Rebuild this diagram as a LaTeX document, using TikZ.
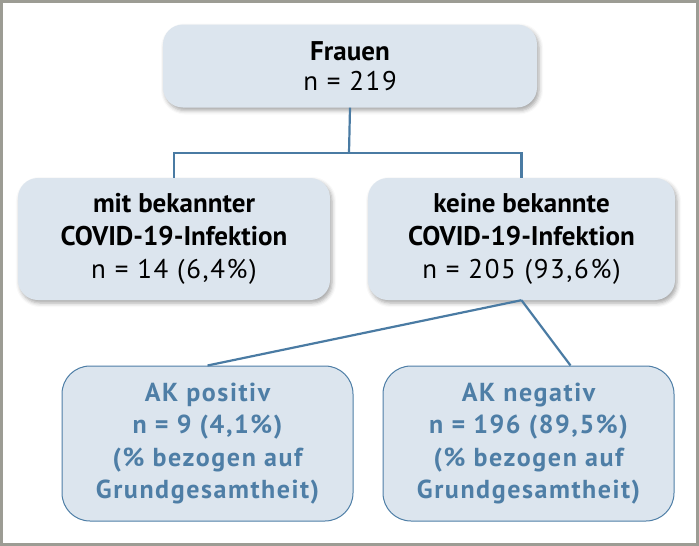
\documentclass[tikz,border=0pt]{standalone}
\usepackage{fontspec}
\setmainfont{PT Sans}
\newfontfamily\wideF[LetterSpace=6]{PT Sans}
\usetikzlibrary{shadows.blur,calc}
\definecolor{boxfill}{HTML}{DCE5EE}
\definecolor{connblue}{HTML}{4A7BA3}
\definecolor{akblue}{HTML}{4E7EA6}
\definecolor{frame}{HTML}{9C9C94}
\newcommand{\nline}[1]{{\wideF #1}}
\tikzset{
  greybox/.style={fill=boxfill, rounded corners=20pt, align=center, inner sep=0pt,
    blur shadow={shadow xshift=2pt, shadow yshift=-3pt, shadow blur radius=4pt, shadow opacity=35},
    font=\fontsize{27}{33}\selectfont},
  akbox/.style={fill=boxfill, draw=akblue, line width=1pt, rounded corners=28pt, align=center,
    inner sep=0pt, text=akblue, font=\fontsize{26}{32.5}\selectfont\wideF\bfseries},
  conn/.style={draw=connblue, line width=2.2pt},
}
\begin{document}
\begin{tikzpicture}[x=1pt,y=-1pt]
\useasboundingbox (0,0) rectangle (699,546);
\draw[frame, line width=3pt] (1.5,1.5) rectangle (697.5,544.5);
\node[greybox, minimum width=374pt, minimum height=83pt, font=\fontsize{27}{30}\selectfont] (top) at (350,66)
  {\textbf{Frauen}\\\nline{n = 219}};
\node[greybox, minimum width=312pt, minimum height=122pt] (lm) at (174,239)
  {\textbf{mit bekannter}\\\textbf{COVID-19-Infektion}\\\nline{n = 14 (6,4\%)}};
\node[greybox, minimum width=307pt, minimum height=122pt] (rm) at (521.5,239)
  {\textbf{keine bekannte}\\\textbf{COVID-19-Infektion}\\\nline{n = 205 (93,6\%)}};
\node[akbox, minimum width=291pt, minimum height=155pt] (bl) at (207.5,443.5)
  {AK positiv\\n = 9 (4,1\%)\\(\% bezogen auf\\Grundgesamtheit)};
\node[akbox, minimum width=291pt, minimum height=155pt] (br) at (528.5,443.5)
  {AK negativ\\n = 196 (89,5\%)\\(\% bezogen auf\\Grundgesamtheit)};
\coordinate (j) at (349,153);
\coordinate (brend) at ($(br.north)+(42,0)$);
\draw[conn] (top.south) -- (j);
\draw[conn] (lm.north) |- (j) -| (rm.north);
\draw[conn] (rm.south) -- (bl.north);
\draw[conn] (rm.south) -- (brend);
\end{tikzpicture}
\end{document}
